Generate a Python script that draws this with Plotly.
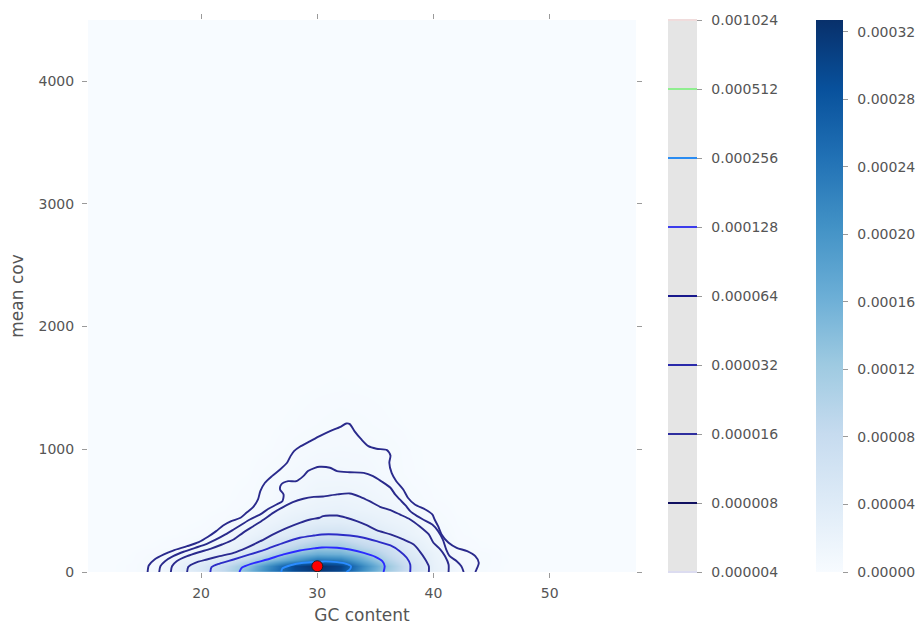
import numpy as np
import plotly.graph_objects as go

# ---------------- data ----------------
# density surface (values in units of 1e-6), rows = mean cov, cols = GC content
grid_gc = [12, 14, 16, 18, 20, 22, 24, 26, 28, 30, 32, 34, 36, 38, 40, 42, 44, 46, 48]
grid_cov = [0, 50, 100, 150, 200, 300, 400, 500, 600, 800, 1000, 1200, 1500, 2000]
density_e6 = [
    [0.5, 1.5, 6.1, 22, 49, 89, 150, 230, 292, 315, 295, 200, 117, 64, 27, 11, 3.0, 0.8, 0.2],
    [0.5, 1.5, 5.7, 20, 45, 80, 132, 215, 298, 327, 305, 212, 125, 63, 26, 10, 3.5, 0.8, 0.2],
    [0.4, 1.0, 4.0, 15, 28, 52, 87, 140, 190, 240, 228, 165, 100, 54, 24, 7.5, 3.8, 1.0, 0.2],
    [0.3, 0.8, 3.0, 8.5, 18.5, 28, 55, 94, 140, 165, 160, 130, 82, 44, 22, 6.6, 3.4, 0.9, 0.2],
    [0.1, 0.4, 1.2, 3.0, 9.8, 20, 32, 64, 97, 125, 125, 95, 69, 36, 17, 4.0, 1.3, 0.3, 0.1],
    [0.05, 0.1, 0.3, 0.8, 2.2, 8, 19, 31, 46, 64, 66, 48, 35, 22, 10.5, 1.6, 0.4, 0.1, 0],
    [0, 0.05, 0.1, 0.3, 1.0, 3.0, 9, 20, 29, 37, 38, 32, 23, 17, 5, 1.2, 0.3, 0, 0],
    [0, 0, 0.05, 0.1, 0.3, 1.2, 3.6, 11, 19, 23, 25, 21, 17, 8, 3, 0.6, 0.1, 0, 0],
    [0, 0, 0, 0.05, 0.1, 0.4, 2.2, 5.5, 11, 17, 18, 15.5, 11, 4, 1.2, 0.3, 0, 0, 0],
    [0, 0, 0, 0, 0.05, 0.2, 0.7, 3.7, 7, 10, 10, 8.8, 4.5, 1.5, 0.4, 0.1, 0, 0, 0],
    [0, 0, 0, 0, 0, 0.1, 0.3, 1.0, 3.5, 5.5, 6, 5.5, 3.9, 1.2, 0.3, 0, 0, 0, 0],
    [0, 0, 0, 0, 0, 0, 0.1, 0.5, 1.3, 2.5, 3.8, 3.0, 1.5, 0.5, 0.1, 0, 0, 0, 0],
    [0, 0, 0, 0, 0, 0, 0, 0.1, 0.4, 0.8, 1.0, 0.8, 0.4, 0.1, 0, 0, 0, 0, 0],
    [0, 0, 0, 0, 0, 0, 0, 0, 0, 0, 0, 0, 0, 0, 0, 0, 0, 0, 0],
]

# contour paths (GC content, mean cov), one per density level
c1_gc = [15.4, 15.5, 16.0, 16.8, 17.6, 18.8, 19.8, 20.6, 21.3, 21.9, 22.6, 23.4, 23.9, 24.5, 24.9,
         25.1, 25.5, 26.1, 26.8, 27.4, 27.7, 28.0, 28.5, 29.4, 30.2, 31.1, 32.0, 32.5, 32.8, 33.2,
         33.8, 34.4, 35.1, 36.0, 36.3, 36.2, 36.4, 36.8, 37.4, 37.8, 38.4, 39.3, 39.9, 40.1, 40.4,
         40.7, 41.3, 42.0, 42.9, 43.6, 43.9, 43.7, 43.6]
c1_cov = [0, 53, 102, 143, 175, 210, 243, 287, 333, 379, 414, 442, 482, 531, 591,
          659, 727, 781, 835, 890, 944, 985, 1020, 1066, 1107, 1148, 1183, 1210, 1205, 1148,
          1080, 1025, 1004, 993, 949, 890, 808, 740, 672, 605, 550, 509, 469, 428, 373,
          306, 238, 197, 170, 129, 75, 20, 0]
c2_gc = [16.4, 16.5, 16.9, 17.6, 18.5, 19.5, 20.5, 21.3, 22.1, 22.8, 23.5, 24.2, 25.1, 25.8, 26.5,
         27.0, 27.1, 26.8, 26.9, 27.5, 28.2, 28.8, 29.2, 29.8, 30.2, 31.1, 31.7, 32.8, 34.0, 34.8,
         35.5, 36.3, 36.7, 37.1, 37.6, 38.0, 38.6, 39.1, 39.9, 40.4, 40.8, 41.1, 41.4, 42.0, 42.4, 42.6]
c2_cov = [0, 47, 88, 129, 165, 197, 230, 265, 306, 346, 387, 428, 469, 515, 550,
          577, 632, 672, 713, 740, 740, 781, 822, 849, 857, 849, 822, 813, 808, 781,
          740, 686, 632, 591, 542, 496, 455, 428, 387, 333, 265, 183, 129, 88, 47, 0]
c3_gc = [17.4, 17.5, 17.9, 18.8, 19.8, 20.8, 21.8, 22.8, 23.6, 24.5, 25.4, 26.2, 27.1, 27.9, 28.8,
         29.7, 30.5, 31.7, 32.8, 33.7, 34.5, 35.4, 36.3, 37.1, 38.0, 38.8, 39.6, 40.0, 40.6, 41.0,
         41.3, 41.3]
c3_cov = [0, 47, 88, 129, 161, 189, 224, 265, 319, 373, 428, 482, 531, 569, 597,
          612, 615, 632, 640, 613, 577, 531, 504, 469, 428, 373, 306, 238, 183, 129, 61, 0]
c4_gc = [18.8, 18.9, 19.5, 20.5, 21.6, 22.8, 23.9, 25.1, 26.2, 27.4, 28.5, 29.4, 30.2, 30.5, 31.7,
         32.5, 33.4, 34.3, 35.1, 36.3, 37.4, 38.3, 38.8, 39.3, 39.6, 39.6]
c4_cov = [0, 42, 75, 102, 129, 156, 197, 251, 306, 360, 401, 428, 442, 455, 460,
          442, 414, 379, 341, 306, 265, 224, 170, 102, 47, 0]
c5_gc = [20.8, 20.9, 21.6, 22.8, 24.2, 25.7, 27.1, 28.5, 29.7, 30.4, 31.7, 32.8, 34.0, 35.1, 36.3,
         37.1, 37.7, 38.0, 38.0]
c5_cov = [0, 39, 69, 102, 143, 189, 238, 279, 297, 306, 306, 297, 279, 251, 216, 170, 116, 61, 0]
c6_gc = [23.3, 23.5, 24.4, 25.7, 27.1, 28.5, 29.7, 30.4, 31.7, 32.8, 34.0, 35.0, 35.6, 35.8, 35.7]
c6_cov = [0, 34, 69, 102, 143, 175, 192, 200, 197, 183, 156, 124, 88, 47, 0]
c7_gc = [26.9, 27.0, 27.7, 28.8, 30.2, 30.5, 31.7, 32.5, 32.9, 32.8, 32.5]
c7_cov = [0, 29, 55, 75, 83, 86, 80, 67, 47, 20, 0]

# highlighted point
point_gc = [30.0]
point_cov = [47]

# contour level legend
level_labels = ["0.000004", "0.000008", "0.000016", "0.000032", "0.000064",
                "0.000128", "0.000256", "0.000512", "0.001024"]
level_colors = ["#dcdcf0", "#101060", "#2e2e9e", "#2a2aaa", "#18188c",
                "#3c3cec", "#2a8cf2", "#90ee90", "#f0dcdc"]

# density colorbar ticks
density_ticks = [0, 0.00004, 0.00008, 0.00012, 0.00016, 0.00020, 0.00024, 0.00028, 0.00032]
density_tick_labels = ["0.00000", "0.00004", "0.00008", "0.00012", "0.00016",
                       "0.00020", "0.00024", "0.00028", "0.00032"]
density_max = 0.000327

# ---------------- styling ----------------
FONT = "DejaVu Sans"
TXT = "#555555"
TICKC = "#9a9a9a"
GAP = "\u2002"
blues = ['rgb(247,251,255)', 'rgb(222,235,247)', 'rgb(198,219,239)', 'rgb(158,202,225)',
         'rgb(107,174,214)', 'rgb(66,146,198)', 'rgb(33,113,181)', 'rgb(8,81,156)', 'rgb(8,48,107)']
blues_scale = [[i / (len(blues) - 1), c] for i, c in enumerate(blues)]

W, H = 917, 625
ML, MR, MT, MB = 88, 281, 20, 53
pw = W - ML - MR


def px_to_paper(px):
    return (px - ML) / pw


fig = go.Figure()

fig.add_trace(go.Heatmap(
    x=grid_gc, y=grid_cov, z=np.array(density_e6) * 1e-6,
    colorscale=blues_scale, zmin=0, zmax=density_max, zsmooth="best",
    hoverinfo="skip",
    colorbar=dict(
        x=px_to_paper(816), xanchor="left", xpad=0, y=0.5, yanchor="middle",
        len=1, lenmode="fraction", ypad=0, thickness=27, outlinewidth=0,
        ticks="outside", ticklen=5, tickcolor=TICKC, tickwidth=1,
        tickvals=density_ticks, ticktext=[GAP + t for t in density_tick_labels],
        tickfont=dict(family=FONT, size=14, color=TXT),
    ),
))

line_sets = [
    (c1_gc, c1_cov, "#2a2a8c"),
    (c2_gc, c2_cov, "#2a2a8c"),
    (c3_gc, c3_cov, "#2a2a8c"),
    (c4_gc, c4_cov, "#2a2a90"),
    (c5_gc, c5_cov, "#2c2cc6"),
    (c6_gc, c6_cov, "#2b2bff"),
    (c7_gc, c7_cov, "#2a8cff"),
]
for gx, gy, col in line_sets:
    fig.add_trace(go.Scatter(
        x=gx, y=gy, mode="lines",
        line=dict(color=col, width=1.9, shape="spline", smoothing=0.7),
        hoverinfo="skip", showlegend=False,
    ))

fig.add_trace(go.Scatter(
    x=point_gc, y=point_cov, mode="markers",
    marker=dict(color="#ff0000", size=11, line=dict(color="#222222", width=1)),
    showlegend=False,
))

# dummy contour trace to draw the level legend (placed outside the visible area)
n_lev = len(level_labels)
lev_idx = list(range(n_lev))
fig.add_trace(go.Contour(
    x=[1000, 1001], y=[100000, 100001], z=[[0, n_lev - 1], [n_lev - 1, 0]],
    zmin=0, zmax=n_lev - 1,
    contours=dict(start=0, end=n_lev - 1, size=1, coloring="lines"),
    colorscale=[[i / (n_lev - 1), c] for i, c in enumerate(level_colors)],
    line=dict(width=2),
    hoverinfo="skip", showlegend=False,
    colorbar=dict(
        x=px_to_paper(668), xanchor="left", xpad=0, y=0.5, yanchor="middle",
        len=1, lenmode="fraction", ypad=0, thickness=29, outlinewidth=0,
        ticks="outside", ticklen=5, tickcolor=TICKC, tickwidth=1,
        tickvals=lev_idx, ticktext=[GAP + t for t in level_labels],
        tickfont=dict(family=FONT, size=14, color=TXT),
    ),
))

fig.add_shape(type="rect", xref="paper", yref="paper",
              x0=px_to_paper(668), x1=px_to_paper(697), y0=0, y1=1,
              fillcolor="#e5e5e5", line=dict(width=0), layer="below")

axis_common = dict(
    showgrid=False, zeroline=False, showline=False, automargin=False,
    ticks="outside", ticklen=5, tickcolor=TICKC, tickwidth=1, mirror="ticks",
    tickfont=dict(family=FONT, size=14, color=TXT),
)
fig.update_layout(
    width=W, height=H, autosize=False,
    margin=dict(l=ML, r=MR, t=MT, b=MB, pad=0, autoexpand=False),
    paper_bgcolor="white", plot_bgcolor="#f7fbff",
    showlegend=False,
    font=dict(family=FONT, color=TXT),
    xaxis=dict(range=[10.27, 57.43], tickvals=[20, 30, 40, 50], ticklabelstandoff=3,
               title=dict(text="GC content", font=dict(family=FONT, size=17, color=TXT), standoff=14),
               **axis_common),
    yaxis=dict(range=[0, 4497], tickvals=[0, 1000, 2000, 3000, 4000], ticklabelstandoff=5,
               title=dict(text="mean cov", font=dict(family=FONT, size=17, color=TXT), standoff=10),
               **axis_common),
)

fig.write_html("out.html", config={"displayModeBar": False},
               post_script="document.body.style.margin='0px';")
